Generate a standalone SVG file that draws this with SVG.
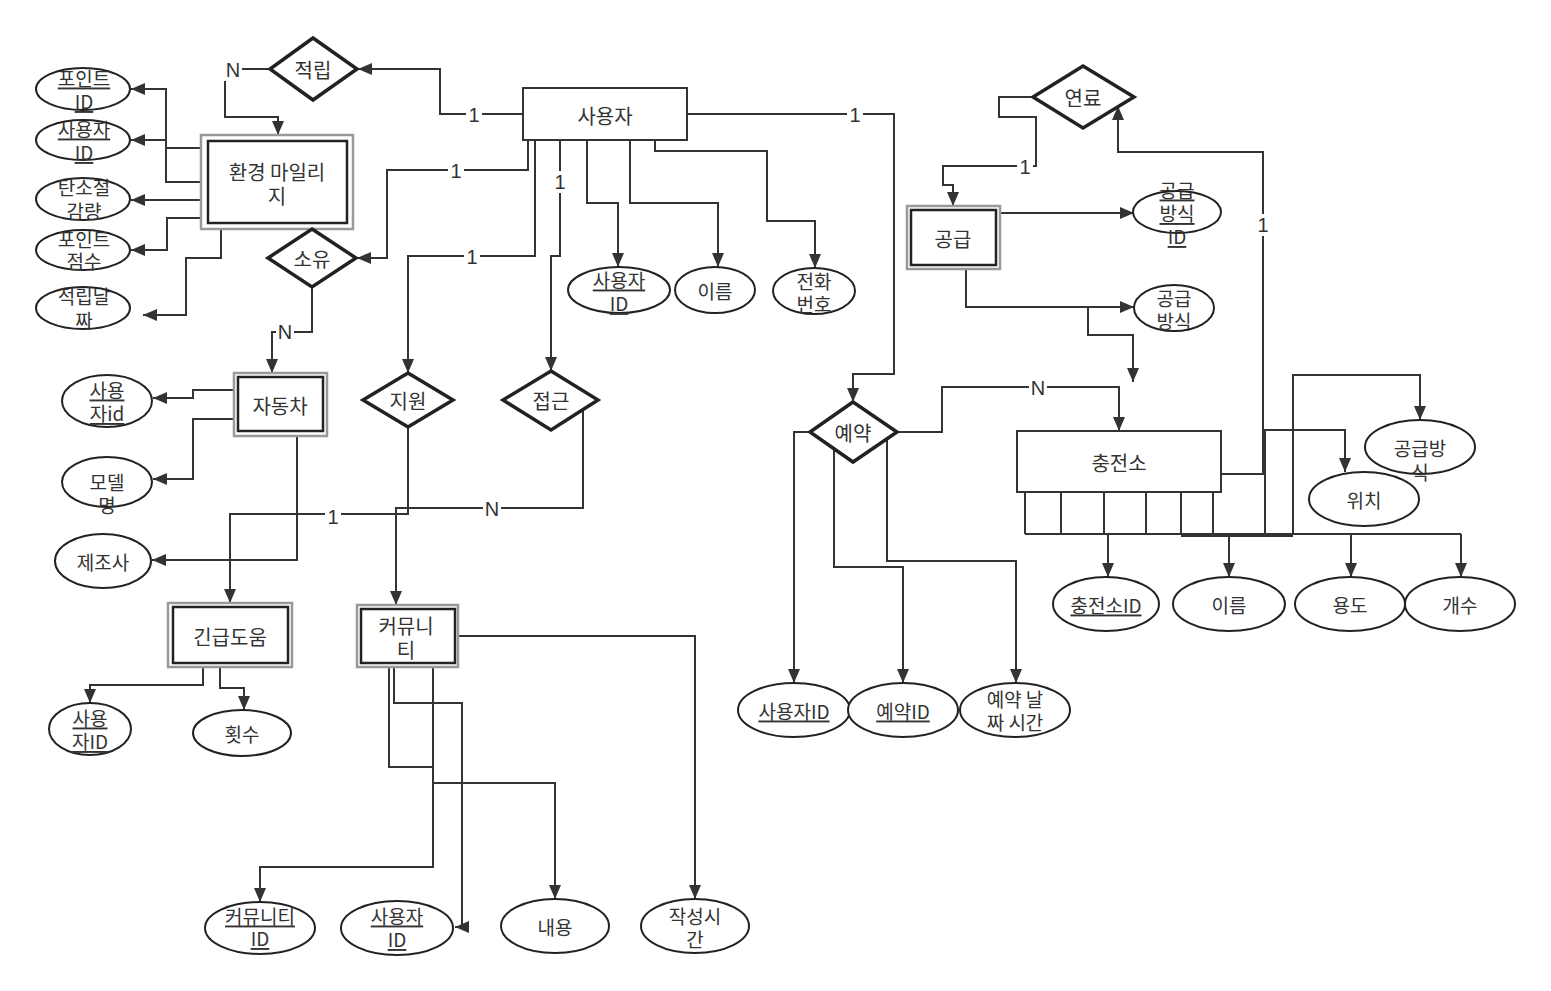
<svg xmlns="http://www.w3.org/2000/svg" width="1551" height="991" viewBox="0 0 1551 991">
<defs>
<marker id="arr" viewBox="0 0 14 12" refX="14" refY="6" markerWidth="14" markerHeight="12" markerUnits="userSpaceOnUse" orient="auto">
<path d="M0,0 L14,6 L0,12 z" fill="#333"/>
</marker>
<style>
.c{fill:none;stroke:#333;stroke-width:2;marker-end:url(#arr)}
.l{fill:none;stroke:#333;stroke-width:2}
.ent{fill:#fff;stroke:#333;stroke-width:2}
.wo{fill:#fff;stroke:#999;stroke-width:2.5}
.wi{fill:#fff;stroke:#222;stroke-width:2.5}
.rel{fill:#fff;stroke:#222;stroke-width:3.5;stroke-linejoin:miter}
.att{fill:#fff;stroke:#222;stroke-width:2}
text{font-family:"Noto Sans CJK KR","Liberation Sans",sans-serif;font-size:19px;fill:#333;text-anchor:middle;dominant-baseline:central}
.big{font-size:20px}
.u{text-decoration:underline}
.lb{font-family:"Liberation Sans",Arial,sans-serif;font-size:20px}
.lbg{fill:#fff}
</style>
</defs>
<rect width="1551" height="991" fill="#fff"/>

<g id="connectors">
<path class="c" d="M523,114 H440 V69 H358"/>
<path class="c" d="M270,69 H225 V117 H278 V135"/>
<path class="c" d="M201,148 H166 V89 H131"/>
<path class="c" d="M201,182 H166 V140 H131"/>
<path class="c" d="M201,200 H131"/>
<path class="c" d="M201,218 H167 V250 H131"/>
<path class="c" d="M221,229 V258 H186 V315 H143"/>
<path class="c" d="M528,140 V170 H387 V258 H357"/>
<path class="c" d="M312,287 V332 H272 V373"/>
<path class="c" d="M234,390 H193 V398 H153"/>
<path class="c" d="M234,419 H193 V479 H153"/>
<path class="c" d="M297,436 V560 H152"/>
<path class="c" d="M535,140 V256 H408 V373"/>
<path class="c" d="M560,140 V256 H551 V371"/>
<path class="c" d="M408,427 V514 H230 V603"/>
<path class="c" d="M583,409 V508 H396 V605"/>
<path class="c" d="M587,140 V203 H618 V267"/>
<path class="c" d="M630,140 V203 H718 V267"/>
<path class="c" d="M655,140 V151 H767 V221 H815 V268"/>
<path class="c" d="M687,114 H894 V374 H853 V402"/>
<path class="c" d="M897,432 H942 V387 H1119 V431"/>
<path class="c" d="M810,432 H794 V683"/>
<path class="c" d="M834,449 V567 H903 V683"/>
<path class="c" d="M887,439 V561 H1016 V683"/>
<path class="c" d="M1033,97 H999 V117 H1036 V166 H943 V185 H953 V206"/>
<path class="c" d="M1000,213 H1134"/>
<path class="c" d="M966,269 V307 H1134"/>
<path class="c" d="M1088,307 V335 H1133 V382"/>
<path class="c" d="M1221,474 H1263 V152 H1118 V106"/>
<path class="l" d="M1025,492 V534 M1061,492 V534 M1104,492 V534 M1146,492 V534 M1181,492 V534 M1213,492 V534 M1025,534 H1461"/>
<path class="l" d="M1181,536 H1293" stroke-width="2.5"/>
<path class="c" d="M1265,534 V430 H1345 V472"/>
<path class="c" d="M1293,534 V375 H1420 V420"/>
<path class="c" d="M1108,534 V577"/>
<path class="c" d="M1229,534 V577"/>
<path class="c" d="M1351,534 V577"/>
<path class="c" d="M1461,534 V577"/>
<path class="c" d="M458,636 H695 V899"/>
<path class="c" d="M433,667 V867 H260 V902"/>
<path class="c" d="M389,667 V767 H433 V783 H555 V899"/>
<path class="c" d="M394,667 V703 H462 V927 H455"/>
<path class="c" d="M203,667 V685 H90 V703"/>
<path class="c" d="M220,667 V688 H244 V710"/>

<g id="labels">
<rect class="lbg" x="466" y="103" width="16" height="22"/><text class="lb" x="474" y="115">1</text>
<rect class="lbg" x="224" y="59" width="18" height="22"/><text class="lb" x="233" y="70">N</text>
<rect class="lbg" x="448" y="159" width="16" height="22"/><text class="lb" x="456" y="171">1</text>
<rect class="lbg" x="276" y="321" width="18" height="22"/><text class="lb" x="285" y="332">N</text>
<rect class="lbg" x="464" y="245" width="16" height="22"/><text class="lb" x="472" y="257">1</text>
<rect class="lbg" x="552" y="171" width="16" height="22"/><text class="lb" x="560" y="182">1</text>
<rect class="lbg" x="325" y="506" width="16" height="22"/><text class="lb" x="333" y="517">1</text>
<rect class="lbg" x="483" y="497" width="18" height="22"/><text class="lb" x="492" y="509">N</text>
<rect class="lbg" x="847" y="103" width="16" height="22"/><text class="lb" x="855" y="115">1</text>
<rect class="lbg" x="1029" y="376" width="18" height="22"/><text class="lb" x="1038" y="388">N</text>
<rect class="lbg" x="1017" y="155" width="16" height="22"/><text class="lb" x="1025" y="167">1</text>
<rect class="lbg" x="1255" y="214" width="16" height="22"/><text class="lb" x="1263" y="225">1</text>
</g>
</g>

<g id="user"><rect class="ent" x="523" y="88" width="164" height="52"/><text class="big" x="605" y="115">사용자</text></g>
<g id="mileage"><rect class="wo" x="201" y="135" width="152" height="94"/><rect class="wi" x="208" y="141" width="139" height="82"/><text class="big" x="277" y="171">환경 마일리<tspan x="277" y="195">지</tspan></text></g>
<g id="car"><rect class="wo" x="234" y="373" width="93" height="63"/><rect class="wi" x="238" y="377" width="85" height="54"/><text class="big" x="280" y="405">자동차</text></g>
<g id="emergency"><rect class="wo" x="168" y="603" width="124" height="64"/><rect class="wi" x="173" y="607" width="115" height="56"/><text class="big" x="230" y="636">긴급도움</text></g>
<g id="community"><rect class="wo" x="357" y="605" width="101" height="62"/><rect class="wi" x="361" y="609" width="94" height="54"/><text class="big" x="406" y="625">커뮤니<tspan x="406" y="649">티</tspan></text></g>
<g id="supply"><rect class="wo" x="907" y="206" width="93" height="63"/><rect class="wi" x="911" y="210" width="85" height="55"/><text class="big" x="953" y="238">공급</text></g>
<g id="station"><rect class="ent" x="1017" y="431" width="204" height="61"/><text class="big" x="1119" y="462">충전소</text></g>

<g id="rel-jeokrip"><polygon class="rel" points="313,38 357,69 313,100 270,69"/><text class="big" x="313" y="69">적립</text></g>
<g id="rel-soyu"><polygon class="rel" points="312,229 356,258 312,287 268,258"/><text class="big" x="312" y="258">소유</text></g>
<g id="rel-jiwon"><polygon class="rel" points="408,373 453,400 408,427 363,400"/><text class="big" x="408" y="400">지원</text></g>
<g id="rel-jeopgeun"><polygon class="rel" points="551,371 598,400 551,430 503,400"/><text class="big" x="551" y="400">접근</text></g>
<g id="rel-yeyak"><polygon class="rel" points="853,402 897,432 853,462 810,432"/><text class="big" x="853" y="432">예약</text></g>
<g id="rel-yeonryo"><polygon class="rel" points="1083,66 1134,97 1083,128 1033,97"/><text class="big" x="1083" y="97">연료</text></g>

<g id="a-pointid"><ellipse class="att" cx="83" cy="89" rx="47" ry="21"/><text class="u" x="84" y="77">포인트<tspan x="84" y="100">ID</tspan></text></g>
<g id="a-mil-userid"><ellipse class="att" cx="83" cy="140" rx="47" ry="20"/><text class="u" x="84" y="128">사용자<tspan x="84" y="151">ID</tspan></text></g>
<g id="a-carbon"><ellipse class="att" cx="83" cy="199" rx="47" ry="21"/><text x="84" y="186">탄소절<tspan x="84" y="210">감량</tspan></text></g>
<g id="a-pointscore"><ellipse class="att" cx="83" cy="250" rx="47" ry="20"/><text x="84" y="238">포인트<tspan x="84" y="260">점수</tspan></text></g>
<g id="a-date"><ellipse class="att" cx="83" cy="308" rx="47" ry="21"/><text x="84" y="295">적립날<tspan x="84" y="319">짜</tspan></text></g>

<g id="a-car-userid"><ellipse class="att" cx="107" cy="401" rx="45" ry="26"/><text class="u" x="107" y="389">사용<tspan x="107" y="412">자id</tspan></text></g>
<g id="a-model"><ellipse class="att" cx="107" cy="482" rx="45" ry="25"/><text x="107" y="481">모델<tspan x="107" y="504">명</tspan></text></g>
<g id="a-maker"><ellipse class="att" cx="103" cy="561" rx="48" ry="27"/><text x="103" y="561">제조사</text></g>
<g id="a-em-userid"><ellipse class="att" cx="90" cy="729" rx="41" ry="26"/><text class="u" x="90" y="717">사용<tspan x="90" y="740">자ID</tspan></text></g>
<g id="a-count"><ellipse class="att" cx="242" cy="733" rx="49" ry="23"/><text x="242" y="733">횟수</text></g>

<g id="a-userid"><ellipse class="att" cx="619" cy="290" rx="51" ry="23"/><text class="u" x="619" y="279">사용자<tspan x="619" y="302">ID</tspan></text></g>
<g id="a-name"><ellipse class="att" cx="715" cy="290" rx="40" ry="23"/><text x="715" y="290">이름</text></g>
<g id="a-phone"><ellipse class="att" cx="814" cy="291" rx="41" ry="23"/><text x="814" y="280">전화<tspan x="814" y="303">번호</tspan></text></g>

<g id="a-commid"><ellipse class="att" cx="260" cy="928" rx="55" ry="26"/><text class="u" x="260" y="915">커뮤니티<tspan x="260" y="937">ID</tspan></text></g>
<g id="a-comm-userid"><ellipse class="att" cx="397" cy="928" rx="56" ry="27"/><text class="u" x="397" y="915">사용자<tspan x="397" y="938">ID</tspan></text></g>
<g id="a-content"><ellipse class="att" cx="555" cy="926" rx="54" ry="27"/><text x="555" y="926">내용</text></g>
<g id="a-time"><ellipse class="att" cx="695" cy="926" rx="54" ry="27"/><text x="695" y="915">작성시<tspan x="695" y="938">간</tspan></text></g>

<g id="a-supplyid"><ellipse class="att" cx="1177" cy="212" rx="44" ry="21"/><text class="u" x="1177" y="189">공급<tspan x="1177" y="212">방식</tspan><tspan x="1177" y="235">ID</tspan></text></g>
<g id="a-supplytype"><ellipse class="att" cx="1174" cy="308" rx="40" ry="23"/><text x="1174" y="297">공급<tspan x="1174" y="320">방식</tspan></text></g>

<g id="a-res-userid"><ellipse class="att" cx="794" cy="710" rx="56" ry="27"/><text class="u" x="794" y="710">사용자ID</text></g>
<g id="a-resid"><ellipse class="att" cx="903" cy="710" rx="55" ry="27"/><text class="u" x="903" y="710">예약ID</text></g>
<g id="a-resdate"><ellipse class="att" cx="1015" cy="710" rx="55" ry="27"/><text x="1015" y="698">예약 날<tspan x="1015" y="721">짜 시간</tspan></text></g>

<g id="a-stationid"><ellipse class="att" cx="1106" cy="604" rx="53" ry="27"/><text class="u" x="1106" y="604">충전소ID</text></g>
<g id="a-st-name"><ellipse class="att" cx="1229" cy="604" rx="56" ry="27"/><text x="1229" y="604">이름</text></g>
<g id="a-usage"><ellipse class="att" cx="1350" cy="604" rx="55" ry="27"/><text x="1350" y="604">용도</text></g>
<g id="a-num"><ellipse class="att" cx="1460" cy="604" rx="55" ry="27"/><text x="1460" y="604">개수</text></g>
<g id="a-loc"><ellipse class="att" cx="1364" cy="499" rx="55" ry="27"/><text x="1364" y="499">위치</text></g>
<g id="a-st-supply"><ellipse class="att" cx="1420" cy="447" rx="55" ry="27"/><text x="1420" y="447">공급방<tspan x="1420" y="471">식</tspan></text></g>
</svg>
